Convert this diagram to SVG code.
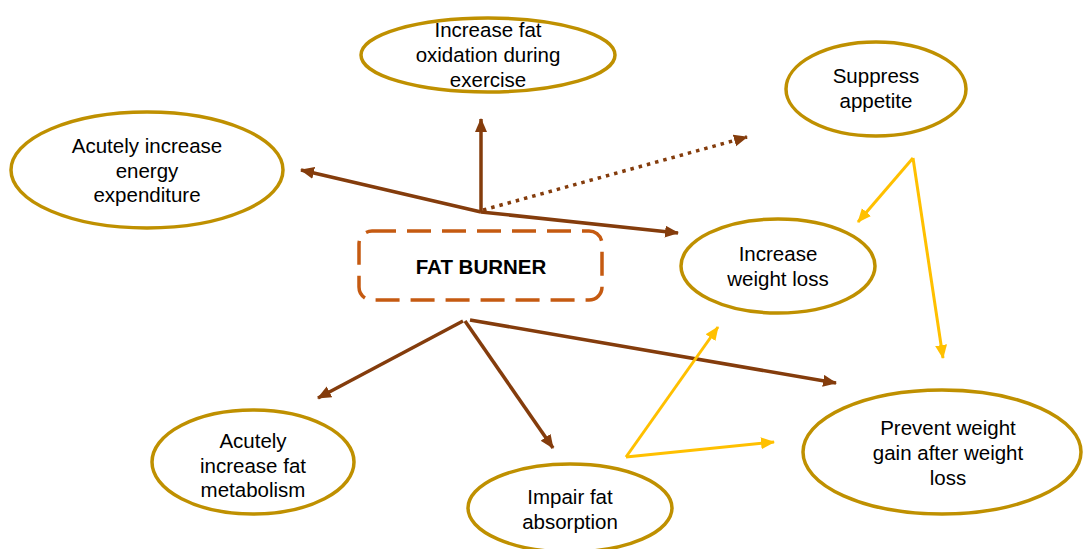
<svg xmlns="http://www.w3.org/2000/svg" width="1083" height="549" viewBox="0 0 1083 549">
<defs>
<style>
.node ellipse{fill:#fff;stroke:#BF9000;stroke-width:3.5}
.t{font-family:"Liberation Sans",Arial,sans-serif;font-size:20.5px;fill:#000;text-anchor:middle}
.b{stroke:#843C0C;stroke-width:3.5;fill:none;marker-end:url(#ab)}
.y{stroke:#FFC000;stroke-width:3;fill:none;marker-end:url(#ay)}
</style>
<marker id="ab" markerUnits="userSpaceOnUse" markerWidth="16" markerHeight="14" refX="13" refY="6" orient="auto"><path d="M0,0 L14,6 L0,12 Z" fill="#843C0C"/></marker>
<marker id="ay" markerUnits="userSpaceOnUse" markerWidth="16" markerHeight="14" refX="13" refY="6" orient="auto"><path d="M0,0 L14,6 L0,12 Z" fill="#FFC000"/></marker>
</defs>
<rect width="1083" height="549" fill="#fff"/>
<g id="connectors">
<line class="b" x1="481" y1="212" x2="481" y2="119"/>
<line class="b" x1="481" y1="212" x2="301" y2="170"/>
<line class="b" x1="481" y1="212" x2="678" y2="233"/>
<line class="b" x1="483" y1="210" x2="747" y2="137" stroke-dasharray="3.5 5"/>
<line class="b" x1="463" y1="321" x2="318" y2="398"/>
<line class="b" x1="465" y1="321" x2="553" y2="448"/>
<line class="b" x1="470" y1="320" x2="836" y2="383"/>
<line class="y" x1="913" y1="158" x2="858" y2="222"/>
<line class="y" x1="913" y1="158" x2="943" y2="358"/>
<line class="y" x1="626" y1="457" x2="718" y2="327"/>
<line class="y" x1="626" y1="457" x2="774" y2="442"/>
</g>
<g id="fat-burner">
<rect x="359" y="231" width="243" height="69" rx="13" fill="#fff" stroke="#C55A11" stroke-width="3.5" stroke-dasharray="24 11"/>
<text class="t" x="481" y="274" font-weight="bold">FAT BURNER</text>
</g>
<g id="fat-oxidation" class="node">
<ellipse cx="488" cy="55" rx="127" ry="37"/>
<text class="t" x="488" y="37">Increase fat</text>
<text class="t" x="488" y="62">oxidation during</text>
<text class="t" x="488" y="87">exercise</text>
</g>
<g id="suppress-appetite" class="node">
<ellipse cx="876" cy="89" rx="90" ry="47"/>
<text class="t" x="876" y="83">Suppress</text>
<text class="t" x="876" y="108">appetite</text>
</g>
<g id="energy-expenditure" class="node">
<ellipse cx="147" cy="170" rx="136" ry="58"/>
<text class="t" x="147" y="153">Acutely increase</text>
<text class="t" x="147" y="178">energy</text>
<text class="t" x="147" y="202">expenditure</text>
</g>
<g id="weight-loss" class="node">
<ellipse cx="778" cy="266" rx="97" ry="47"/>
<text class="t" x="778" y="261">Increase</text>
<text class="t" x="778" y="286">weight loss</text>
</g>
<g id="fat-metabolism" class="node">
<ellipse cx="253" cy="462" rx="101" ry="52"/>
<text class="t" x="253" y="448">Acutely</text>
<text class="t" x="253" y="473">increase fat</text>
<text class="t" x="253" y="497">metabolism</text>
</g>
<g id="fat-absorption" class="node">
<ellipse cx="570" cy="508" rx="102" ry="44"/>
<text class="t" x="570" y="504">Impair fat</text>
<text class="t" x="570" y="529">absorption</text>
</g>
<g id="prevent-gain" class="node">
<ellipse cx="942" cy="452" rx="139" ry="62"/>
<text class="t" x="948" y="435">Prevent weight</text>
<text class="t" x="948" y="460">gain after weight</text>
<text class="t" x="948" y="485">loss</text>
</g>
</svg>
